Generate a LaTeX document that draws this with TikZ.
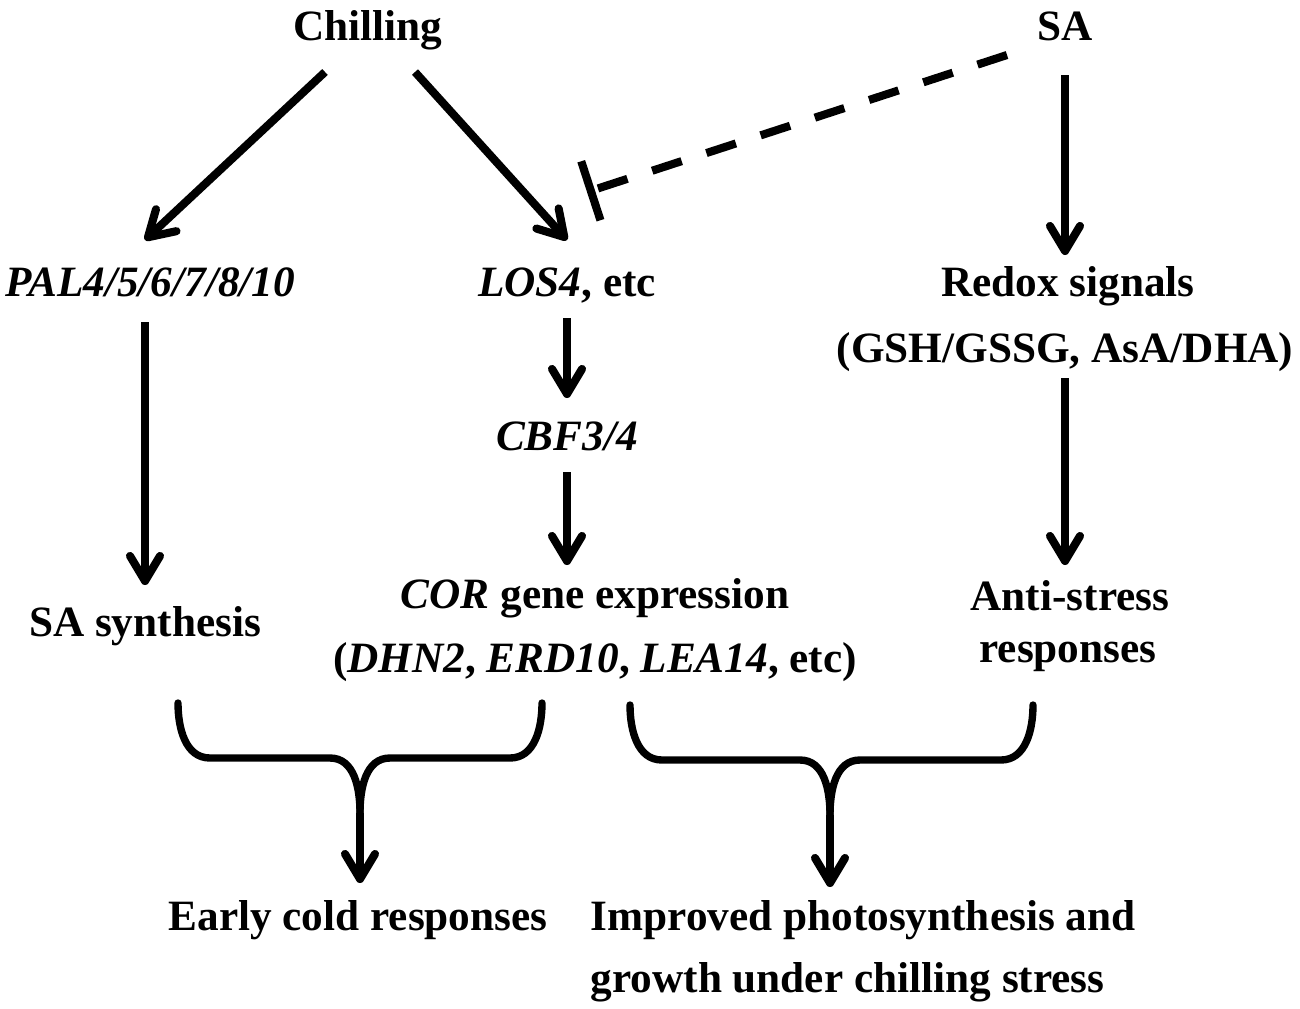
\documentclass[tikz,border=0pt]{standalone}
\usepackage{fontspec}
\setmainfont{Liberation Serif}
\usepackage{tikz}
\usetikzlibrary{arrows.meta}

\begin{document}
\begin{tikzpicture}[x=0.01cm, y=-0.01cm]
\tikzstyle{every node}=[inner sep=0pt, anchor=base, font=\fontsize{12.3}{14}\selectfont\bfseries];
\tikzstyle{arr}=[line width=2.3pt, -{Straight Barb[length=0.25cm,width=0.3cm,round]}];
\tikzstyle{inh}=[line width=2.3pt, dash pattern=on 0.31cm off 0.26cm, -{Bar[width=0.62cm]}];
\tikzstyle{brk}=[line width=2.1pt, line cap=round];
\useasboundingbox (0,0) rectangle (1300,1008);

% top row
\node (chill) at (368,40) {Chilling};
\node (sa) at (1065,40) {SA};
% second row
\node (pal) at (150,296) {\textit{PAL4/5/6/7/8/10}};
\node (los) at (567,296) {\textit{LOS4}, etc};
\node (redox) at (1068,296) {Redox signals};
\node (redox2) at (1065,362) {(GSH/GSSG, AsA/DHA)};
\node (cbf) at (567,450) {\textit{CBF3/4}};
% third row
\node (sasyn) at (145,636) {SA synthesis};
\node (cor) at (595,608) {\textit{COR} gene expression};
\node (cor2) at (595,672) {(\textit{DHN2}, \textit{ERD10}, \textit{LEA14}, etc)};
\node (anti) at (1070,610) {Anti-stress};
\node (anti2) at (1068,662) {responses};
% bottom row
\node (early) at (358,930) {Early cold responses};
\node[anchor=base west] (impr) at (590,930) {Improved photosynthesis and};
\node[anchor=base west] (impr2) at (590,992) {growth under chilling stress};

\draw[arr] ([shift={(-43,32)}]chill.base) -- ([shift={(-5,-56)}]pal.base);
\draw[arr] ([shift={(47,32)}]chill.base) -- ([shift={(0,-56)}]los.base);
\draw[inh] ([shift={(-58,15)}]sa.base) -- ([shift={(20,-104)}]los.base);
\draw[arr] ([shift={(0,35)}]sa.base) -- ([shift={(-3,-41)}]redox.base);
\draw[arr] ([shift={(-5,26)}]pal.base) -- ([shift={(0,-51)}]sasyn.base);
\draw[arr] ([shift={(0,22)}]los.base) -- ([shift={(0,-52)}]cbf.base);
\draw[arr] ([shift={(0,22)}]cbf.base) -- ([shift={(-28,-43)}]cor.base);
\draw[arr] ([shift={(0,16)}]redox2.base) -- ([shift={(-5,-45)}]anti.base);

% brackets
\coordinate (lb1) at ([shift={(33,67)}]sasyn.base);
\coordinate (rb1) at ([shift={(-53,31)}]cor2.base);
\coordinate (mb1) at ([shift={(2,-117)}]early.base);
\draw[brk] (lb1) to[out=-90,in=180] ++(32,55) -- ++(120,0) to[out=0,in=90] (mb1);
\draw[brk] (rb1) to[out=-90,in=0] ++(-32,55) -- ++(-120,0) to[out=180,in=90] (mb1);
\draw[arr] (mb1) -- ([shift={(2,-47)}]early.base);

\coordinate (lb2) at ([shift={(35,33)}]cor2.base);
\coordinate (rb2) at ([shift={(-35,43)}]anti2.base);
\coordinate (mb2) at ([shift={(240,-115)}]impr.base west);
\draw[brk] (lb2) to[out=-90,in=180] ++(32,55) -- ++(138,0) to[out=0,in=90] (mb2);
\draw[brk] (rb2) to[out=-90,in=0] ++(-32,55) -- ++(-141,0) to[out=180,in=90] (mb2);
\draw[arr] (mb2) -- ([shift={(240,-43)}]impr.base west);
\end{tikzpicture}
\end{document}
